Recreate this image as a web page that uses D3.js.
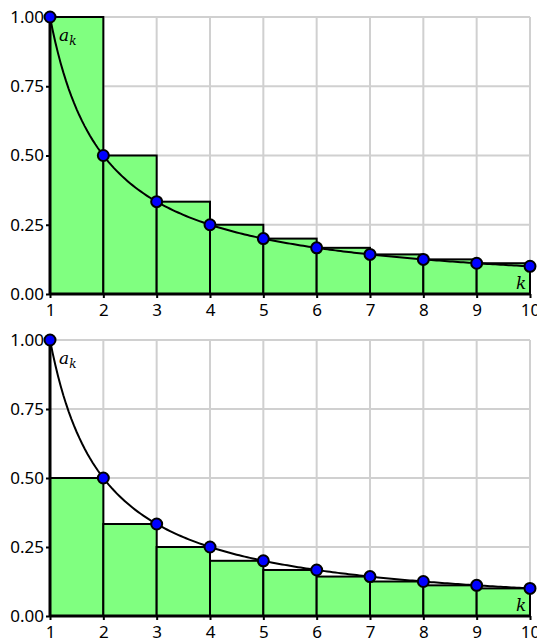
<!DOCTYPE html>
<html>
<head>
<meta charset="utf-8">
<script src="https://cdn.jsdelivr.net/npm/d3@7"></script>
<style>
  body { margin: 0; background: #fff; }
  svg { display: block; }
</style>
</head>
<body>
<div id="chart"></div>
<script>
// sequence a_k = 1/k, sampled at k = 1..10
const ks = [1, 2, 3, 4, 5, 6, 7, 8, 9, 10];
const ak = [1, 0.5, 0.3333, 0.25, 0.2, 0.1667, 0.1429, 0.125, 0.1111, 0.1];
const xTicks = [1, 2, 3, 4, 5, 6, 7, 8, 9, 10];
const yTicks = [0, 0.25, 0.5, 0.75, 1];

const width = 537, height = 640;
const svg = d3.select("#chart").append("svg")
    .attr("width", width)
    .attr("height", height);

const x = d3.scaleLinear().domain([1, 10]).range([50, 530]);

// two panels: left endpoint rectangles on top, right endpoint below
const panels = [
    { top: 17, bottom: 294, rects: ks.slice(0, 9).map((k, i) => ({ x0: k, x1: k + 1, h: ak[i] })) },
    { top: 340, bottom: 616, rects: ks.slice(0, 9).map((k, i) => ({ x0: k, x1: k + 1, h: ak[i + 1] })) }
];

panels.forEach(p => {
    const y = d3.scaleLinear().domain([0, 1]).range([p.bottom, p.top]);
    const g = svg.append("g");

    // grid
    g.selectAll("line.vg").data(xTicks).enter().append("line")
        .attr("x1", d => x(d)).attr("x2", d => x(d))
        .attr("y1", y(0)).attr("y2", y(1))
        .attr("stroke", "#d0d0d0").attr("stroke-width", 2);
    g.selectAll("line.hg").data(yTicks).enter().append("line")
        .attr("x1", x(1)).attr("x2", x(10))
        .attr("y1", d => y(d)).attr("y2", d => y(d))
        .attr("stroke", "#d0d0d0").attr("stroke-width", 2);

    // rectangles
    g.selectAll("rect").data(p.rects).enter().append("rect")
        .attr("x", d => x(d.x0))
        .attr("y", d => y(d.h))
        .attr("width", d => x(d.x1) - x(d.x0))
        .attr("height", d => y(0) - y(d.h))
        .attr("fill", "#80ff80")
        .attr("stroke", "#000")
        .attr("stroke-width", 2);

    // axes
    const xAxis = d3.axisBottom(x).tickValues(xTicks).tickSize(4).tickFormat(d3.format("d"));
    const yAxis = d3.axisLeft(y).tickValues(yTicks).tickSize(4).tickFormat(d3.format(".2f"));
    const gx = g.append("g").attr("transform", `translate(0,${y(0)})`).call(xAxis);
    const gy = g.append("g").attr("transform", `translate(${x(1)},0)`).call(yAxis);
    [gx, gy].forEach(a => {
        a.select(".domain").attr("stroke", "#000").attr("stroke-width", 3);
        a.selectAll(".tick line").attr("stroke", "#000").attr("stroke-width", 2);
        a.selectAll(".tick text")
            .attr("fill", "#000")
            .style("font-family", "'Noto Sans'")
            .style("font-size", "17px");
    });
    gx.select(".domain").attr("d", `M${x(1)},0H${x(10)}`);
    gy.select(".domain").attr("d", `M0,${y(0)}V${y(1)}`);
    gx.selectAll(".tick text").attr("y", 10);
    gy.selectAll(".tick text").attr("x", -6);

    // curve 1/t
    const ts = d3.range(1, 10.001, 0.05);
    const line = d3.line().x(t => x(t)).y(t => y(1 / t));
    g.append("path")
        .attr("d", line(ts))
        .attr("fill", "none")
        .attr("stroke", "#000")
        .attr("stroke-width", 2);

    // points
    g.selectAll("circle").data(ks).enter().append("circle")
        .attr("cx", d => x(d))
        .attr("cy", (d, i) => y(ak[i]))
        .attr("r", 5.5)
        .attr("fill", "#0000ff")
        .attr("stroke", "#000")
        .attr("stroke-width", 2);

    // labels
    const lab = g.append("text")
        .attr("x", x(1) + 9).attr("y", y(1) + 24)
        .style("font-family", "DejaVu Serif")
        .style("font-style", "italic")
        .style("font-size", "17px");
    lab.append("tspan").text("a");
    lab.append("tspan").attr("dy", 4).style("font-size", "12px").text("k");

    g.append("text")
        .attr("x", x(10) - 14).attr("y", y(0) - 5)
        .style("font-family", "DejaVu Serif")
        .style("font-style", "italic")
        .style("font-size", "17px")
        .text("k");
});
</script>
</body>
</html>
